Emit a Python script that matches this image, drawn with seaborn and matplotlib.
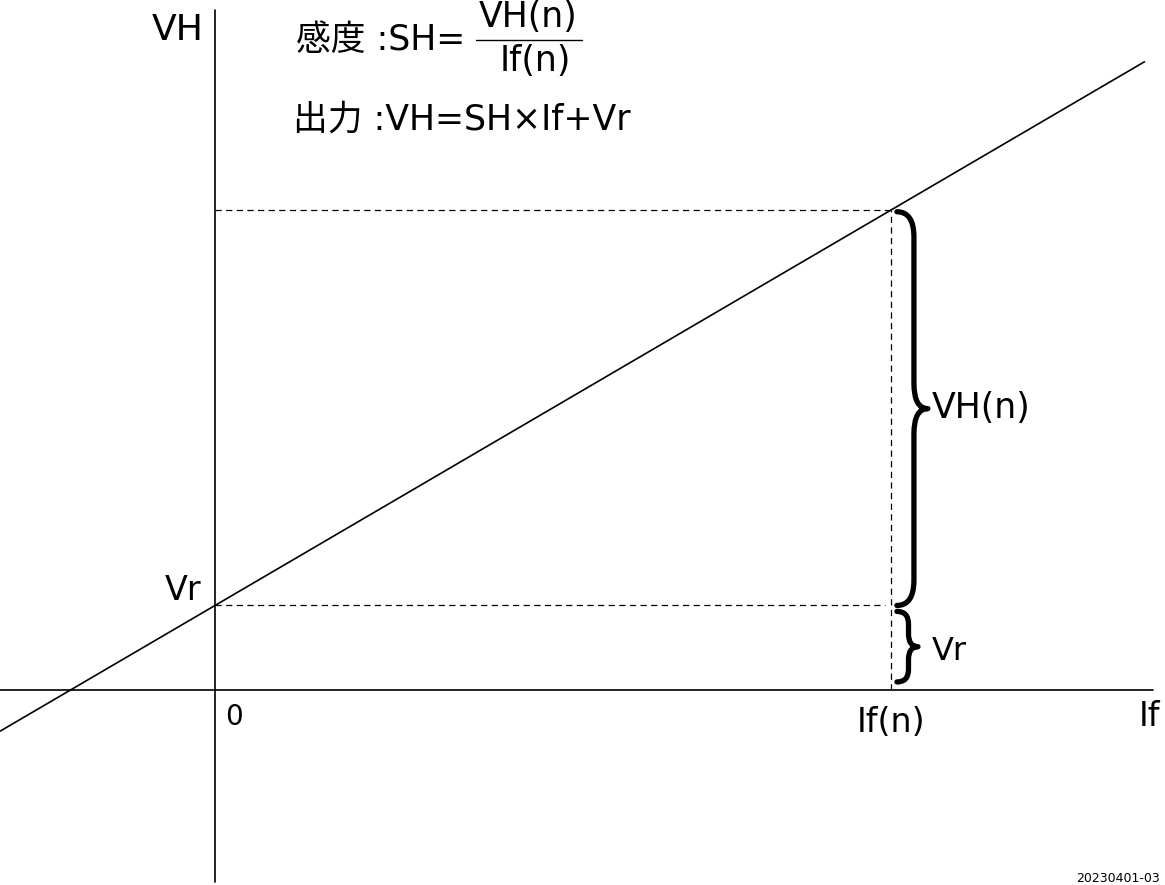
import numpy as np
import matplotlib
matplotlib.use("Agg")
import matplotlib.pyplot as plt
from matplotlib.path import Path
from matplotlib.patches import PathPatch
import seaborn as sns

# model values (arbitrary units, 1 unit ~ 84.5 px)
IF_N = 8.0          # If(n)
VR = 1.0            # Vr, offset voltage
SH = 0.585          # sensitivity
line_if = np.array([-2.54, 11.00])   # extent of the VH line
x_axis = [-2.544, 11.10]
y_axis = [-2.27, 8.05]
VH_N = VR + SH * IF_N

sns.set_style("white")
plt.rcParams['font.family'] = ['DejaVu Sans', 'Noto Sans CJK JP']
plt.rcParams['text.color'] = 'black'

fig = plt.figure(figsize=(11.65, 8.85), dpi=100)
ax = fig.add_axes([0, 0, 1, 1])
ax.set_xlim(-2.544, 11.243)
ax.set_ylim(-2.308, 8.166)
ax.axis("off")

# axes
ax.plot(x_axis, [0, 0], color="black", lw=1.2)
ax.plot([0, 0], y_axis, color="black", lw=1.2)

# output line VH = SH*If + Vr
sns.lineplot(x=line_if, y=VR + SH * line_if, color="black", lw=1.2, ax=ax)

# dashed guides
dash = dict(color="black", lw=0.9, dashes=(5, 3.5))
ax.plot([0, IF_N], [VH_N, VH_N], **dash)
ax.plot([0, IF_N - 0.07], [VR, VR], **dash)
ax.plot([IF_N, IF_N], [0, VH_N], **dash)


def brace(x0, y_top, y_bot, w, r, lw):
    xm = x0 + w * 0.55
    ym = (y_top + y_bot) / 2
    verts = [(x0, y_top), (xm, y_top), (xm, y_top - r),
             (xm, ym + r), (xm, ym), (x0 + w, ym),
             (xm, ym), (xm, ym - r),
             (xm, y_bot + r), (xm, y_bot), (x0, y_bot)]
    codes = [Path.MOVETO, Path.CURVE3, Path.CURVE3, Path.LINETO,
             Path.CURVE3, Path.CURVE3, Path.CURVE3, Path.CURVE3,
             Path.LINETO, Path.CURVE3, Path.CURVE3]
    ax.add_patch(PathPatch(Path(verts, codes), fill=False, lw=lw,
                           edgecolor="black", capstyle="round", joinstyle="round"))


brace(IF_N + 0.07, VH_N - 0.02, VR, 0.367, 0.3, 3.8)
brace(IF_N + 0.07, VR - 0.07, 0.095, 0.25, 0.15, 3.8)

# labels (positions in figure fraction)
W, H = 1165, 885


def label(px, py, s, size, ha="center"):
    ax.text(px / W, 1 - py / H, s, fontsize=size, ha=ha, va="center",
            color="black", transform=ax.transAxes)


label(178, 30, "VH", 26)
label(183, 590, "Vr", 24)
label(234, 717, "0", 20)
label(891, 722, "If(n)", 24)
label(1149, 717, "If", 24)
label(932, 408, "VH(n)", 25, ha="left")
label(932, 651, "Vr", 23, ha="left")

# formulas
label(296, 40, "感度 :SH=", 25, ha="left")
label(528, 17, "VH(n)", 25)
ax.plot([476 / W, 582 / W], [1 - 40 / H, 1 - 40 / H], color="black", lw=1.0,
        transform=ax.transAxes)
label(535, 61, "If(n)", 25)
label(293, 120, "出力 :VH=SH×If+Vr", 25, ha="left")

ax.text(1160 / W, 1 - 879 / H, "20230401-03", fontsize=9, ha="right", va="center",
        color="black", transform=ax.transAxes)

fig.savefig("out.png", dpi=100)
